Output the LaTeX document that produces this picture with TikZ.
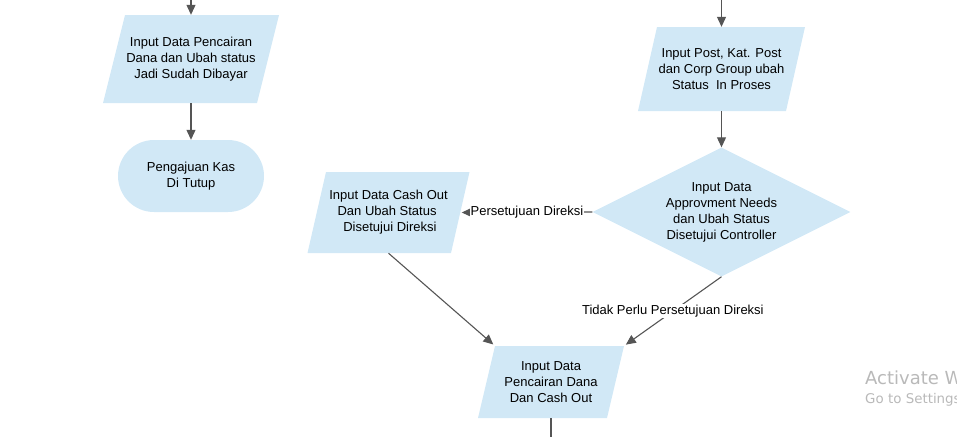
\documentclass[tikz,border=0pt]{standalone}
\usepackage{fontspec}
\setmainfont{Liberation Sans}
\newfontfamily\winfont{DejaVu Sans}
\usepackage{xcolor}
\usetikzlibrary{shapes.geometric}
\usetikzlibrary{arrows.meta}
\definecolor{boxblue}{RGB}{209,232,246}
\definecolor{linegray}{RGB}{85,85,85}
\definecolor{watergray}{RGB}{185,185,185}
\newcommand{\boxfont}{\fontsize{13}{16}\selectfont}

\tikzset{
	inputbox/.style={rectangle, draw=none, inner sep=0pt, align=center, font=\boxfont,
		path picture={\fill[boxblue] ([xshift=#1]path picture bounding box.north west) -- (path picture bounding box.north east) -- ([xshift=-#1]path picture bounding box.south east) -- (path picture bounding box.south west) -- cycle;}},
	endbox/.style={rectangle, rounded corners=36pt, fill=boxblue, draw=none, inner sep=0pt, align=center, font=\boxfont},
	decision/.style={diamond, aspect=2, fill=boxblue, draw=none, inner sep=0pt, align=center, font=\boxfont},
	flow/.style={draw=linegray, line width=1.1pt, -{Triangle[length=10pt,width=9pt]}},
	lbl/.style={fill=white, inner sep=1pt, font=\boxfont}
}

\begin{document}
\begin{tikzpicture}[x=1pt,y=1pt,yscale=-1,xscale=1]
	\useasboundingbox (0,0) rectangle (957,437);
	\clip (0,0) rectangle (957,437);

	%Shape: Parallelogram [pencairan]
	\node [inputbox=22, minimum width=176, minimum height=88] (pencairan) at (191,59) {Input Data Pencairan\\Dana dan Ubah status\\Jadi Sudah Dibayar};
	%Shape: Terminal [tutup]
	\node [endbox, minimum width=146, minimum height=72] (tutup) at (191,176) {Pengajuan Kas\\Di Tutup};
	%Shape: Parallelogram [post]
	\node [inputbox=19, minimum width=167, minimum height=84] (post) at (721.5,69) {Input Post, Kat. Post\\dan Corp Group ubah\\Status\ \ In Proses};
	%Shape: Diamond [approval]
	\node [decision, minimum width=258, minimum height=129] (approval) at (721.5,212) {Input Data\\Approvment Needs\\dan Ubah Status\\Disetujui Controller};
	%Shape: Parallelogram [cashout]
	\node [inputbox=18.5, minimum width=162, minimum height=81] (cashout) at (388.5,212.5) {Input Data Cash Out\\Dan Ubah Status\phantom{i}\\\phantom{i}Disetujui Direksi};
	%Shape: Parallelogram [danacash]
	\node [inputbox=17, minimum width=146, minimum height=72] (danacash) at (551,382) {Input Data\\Pencairan Dana\\Dan Cash Out};

	% free ends
	\coordinate (inA) at (191,0);
	\coordinate (inB) at (721.5,0);
	\coordinate (outD) at (551,437);

	% Connectors
	\draw [flow] (inA) -- (pencairan);
	\draw [flow] (pencairan) -- (tutup);
	\draw [flow] (inB) -- (post);
	\draw [flow] (post) -- (approval);
	\draw [flow] (approval.west) -- node [lbl] {Persetujuan Direksi} ([xshift=-8]cashout.east);
	\draw [flow, shorten >=2pt] (cashout.south) -- ([xshift=17]danacash.north west);
	\draw [flow, shorten >=2pt] (approval.south) -- node [lbl] {Tidak Perlu Persetujuan Direksi} (danacash.north east);
	\draw [draw=linegray, line width=1.1pt] (danacash.south) -- (outD);

	% Text Node
	\node [anchor=base west, text=watergray, inner sep=0pt, font=\winfont\fontsize{18}{20}\selectfont] (activate) at (865,384) {Activate Windows};
	% Text Node
	\node [anchor=base west, text=watergray, inner sep=0pt, font=\winfont\fontsize{13.4}{16}\selectfont] (settings) at (865,403.5) {Go to Settings to activate Windows.};
\end{tikzpicture}
\end{document}
